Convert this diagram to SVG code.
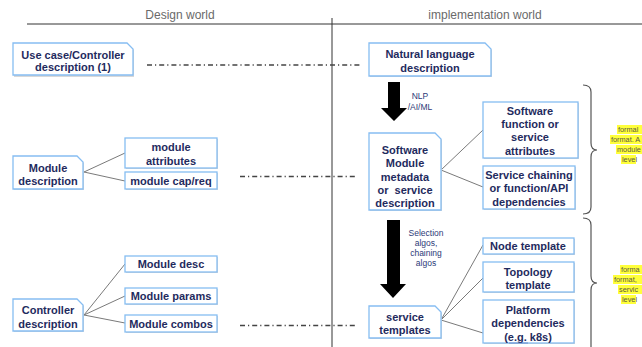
<svg xmlns="http://www.w3.org/2000/svg" width="642" height="347" viewBox="0 0 642 347">
<style>
.bx{fill:#fff;stroke:#86bdf2;stroke-width:1.3}
.sh{fill:#d8d8d8}
.t{font-family:"Liberation Sans",Arial,sans-serif;font-size:11px;font-weight:bold;fill:#1f2b5e;text-anchor:middle}
.s{font-family:"Liberation Sans",Arial,sans-serif;font-size:8.5px;fill:#2c3a78;text-anchor:middle}
.h{font-family:"Liberation Sans",Arial,sans-serif;font-size:12px;fill:#6a6a6a;text-anchor:middle}
.y{font-family:"Liberation Sans",Arial,sans-serif;font-size:7.3px;fill:#5a5a40}
.hl{fill:#ffff3a}
.c{stroke:#7a7a7a;stroke-width:1;fill:none}
.dd{stroke:#444;stroke-width:1.3;stroke-dasharray:5,3,1.2,3;fill:none}
.br{stroke:#555;stroke-width:1.2;fill:none}
</style>
<rect width="642" height="347" fill="#fff"/>
<g id="header">
<text class="h" x="180" y="19">Design world</text>
<text class="h" x="485" y="19">implementation world</text>
<line x1="27" y1="24" x2="642" y2="24" stroke="#333" stroke-width="1"/>
<line x1="332" y1="18" x2="332" y2="347" stroke="#333" stroke-width="1"/>
</g>
<g id="connectors">
<path class="dd" d="M147,65 H360"/>
<path class="dd" d="M240,176.5 H356"/>
<path class="dd" d="M240,325.5 H355"/>
<path class="c" d="M84,172 L125,153 M84,172 L125,181"/>
<path class="c" d="M84,315 L125,264 M84,315 L125,296 M84,315 L125,323"/>
<path class="c" d="M441,170 L483,130 M441,170 L483,187"/>
<path class="c" d="M441,320 L483,245 M441,320 L483,278 M441,320 L483,333"/>
<polygon points="388,82 400,82 400,108 407,108 394,121 381,108 388,108" fill="#000"/>
<polygon points="387,220 400,220 400,284 406,284 393,298 380,284 387,284" fill="#000"/>
<text class="s" x="420" y="99">NLP</text>
<text class="s" x="420" y="110">/AI/ML</text>
<text class="s" x="426" y="236">Selection</text>
<text class="s" x="426" y="246">algos,</text>
<text class="s" x="426" y="256">chaining</text>
<text class="s" x="426" y="266">algos</text>
</g>
<g id="usecase">
<path class="sh" d="M14,44 H128 L134,50 V77 H14 Z"/>
<path class="bx" d="M13,43 H127 L133,49 V75 H13 Z"/>
<text class="t" x="73" y="59">Use case/Controller</text>
<text class="t" x="73" y="71">description (1)</text>
</g>
<g id="natural">
<path class="sh" d="M370,44 H486 L492,50 V77 H370 Z"/>
<path class="bx" d="M369,43 H485 L491,49 V76 H369 Z"/>
<text class="t" x="430" y="58">Natural language</text>
<text class="t" x="430" y="72">description</text>
</g>
<g id="moddesc">
<path class="sh" d="M14,157 H78 L84,163 V190 H14 Z"/>
<path class="bx" d="M13,156 H77 L83,162 V189 H13 Z"/>
<text class="t" x="48" y="172">Module</text>
<text class="t" x="48" y="185">description</text>
</g>
<g id="modattr">
<rect class="sh" x="126" y="139" width="92" height="30"/>
<rect class="bx" x="125" y="138" width="92" height="30"/>
<text class="t" x="171" y="151">module</text>
<text class="t" x="171" y="165">attributes</text>
</g>
<g id="modcap">
<rect class="sh" x="126" y="173" width="92" height="17"/>
<rect class="bx" x="125" y="172" width="92" height="17"/>
<text class="t" x="171" y="185">module cap/req</text>
</g>
<g id="ctrldesc">
<path class="sh" d="M14,300 H78 L84,306 V332 H14 Z"/>
<path class="bx" d="M13,299 H77 L83,305 V331 H13 Z"/>
<text class="t" x="48" y="314">Controller</text>
<text class="t" x="48" y="328">description</text>
</g>
<g id="moddesc2">
<rect class="sh" x="126" y="257" width="92" height="16"/>
<rect class="bx" x="125" y="256" width="92" height="16"/>
<text class="t" x="171" y="268">Module desc</text>
</g>
<g id="modparams">
<rect class="sh" x="126" y="289" width="92" height="16"/>
<rect class="bx" x="125" y="288" width="92" height="16"/>
<text class="t" x="171" y="300">Module params</text>
</g>
<g id="modcombos">
<rect class="sh" x="126" y="316" width="92" height="17"/>
<rect class="bx" x="125" y="315" width="92" height="17"/>
<text class="t" x="171" y="327.5">Module combos</text>
</g>
<g id="swmodule">
<path class="sh" d="M370,134 H436 L442,140 V211 H370 Z"/>
<path class="bx" d="M369,133 H435 L441,139 V210 H369 Z"/>
<text class="t" x="405" y="154">Software</text>
<text class="t" x="405" y="167">Module</text>
<text class="t" x="405" y="181">metadata</text>
<text class="t" x="405" y="194">or&#160; service</text>
<text class="t" x="405" y="207">description</text>
</g>
<g id="swfunc">
<rect class="sh" x="484" y="103" width="95" height="56"/>
<rect class="bx" x="483" y="102" width="95" height="56"/>
<text class="t" x="530" y="115">Software</text>
<text class="t" x="530" y="128">function or</text>
<text class="t" x="530" y="141">service</text>
<text class="t" x="530" y="155">attributes</text>
</g>
<g id="svcchain">
<rect class="sh" x="484" y="167" width="92" height="43"/>
<rect class="bx" x="483" y="166" width="92" height="43"/>
<text class="t" x="529" y="179">Service chaining</text>
<text class="t" x="529" y="192">or function/API</text>
<text class="t" x="529" y="206">dependencies</text>
</g>
<g id="svctemplates">
<path class="sh" d="M370,307 H436 L442,313 V339 H370 Z"/>
<path class="bx" d="M369,306 H435 L441,312 V338 H369 Z"/>
<text class="t" x="405" y="321">service</text>
<text class="t" x="405" y="334">templates</text>
</g>
<g id="nodetpl">
<rect class="sh" x="484" y="239" width="91" height="16"/>
<rect class="bx" x="483" y="238" width="91" height="16"/>
<text class="t" x="528" y="250">Node template</text>
</g>
<g id="topotpl">
<rect class="sh" x="484" y="263" width="91" height="30"/>
<rect class="bx" x="483" y="262" width="91" height="30"/>
<text class="t" x="528" y="276">Topology</text>
<text class="t" x="528" y="289">template</text>
</g>
<g id="platdeps">
<rect class="sh" x="484" y="301" width="91" height="43"/>
<rect class="bx" x="483" y="300" width="91" height="43"/>
<text class="t" x="528" y="314">Platform</text>
<text class="t" x="528" y="327">dependencies</text>
<text class="t" x="528" y="341">(e.g. k8s)</text>
<line x1="509" y1="343" x2="528" y2="343" stroke="#5b7fc7" stroke-width="0.8"/>
</g>
<g id="brace1">
<path class="br" d="M583,85 Q591,85 591,92 V143 Q591,150 597,150 Q591,150 591,157 V207 Q591,214 583,214"/>
<rect class="hl" x="617" y="125" width="25" height="9"/>
<rect class="hl" x="610" y="135" width="32" height="9"/>
<rect class="hl" x="616" y="145" width="26" height="9"/>
<rect class="hl" x="621" y="155" width="15" height="9"/>
<text class="y" x="618" y="132">formal</text>
<text class="y" x="611" y="142">format. A</text>
<text class="y" x="617" y="152">module</text>
<text class="y" x="622" y="162">level</text>
</g>
<g id="brace2">
<path class="br" d="M583,218 Q591,218 591,225 V276 Q591,283 597,283 Q591,283 591,290 V350"/>
<rect class="hl" x="620" y="265" width="22" height="9"/>
<rect class="hl" x="613" y="275" width="29" height="9"/>
<rect class="hl" x="618" y="285" width="24" height="9"/>
<rect class="hl" x="621" y="295" width="15" height="9"/>
<text class="y" x="621" y="272">forma</text>
<text class="y" x="614" y="282">format,</text>
<text class="y" x="619" y="292">servic</text>
<text class="y" x="622" y="302">level</text>
</g>
</svg>
